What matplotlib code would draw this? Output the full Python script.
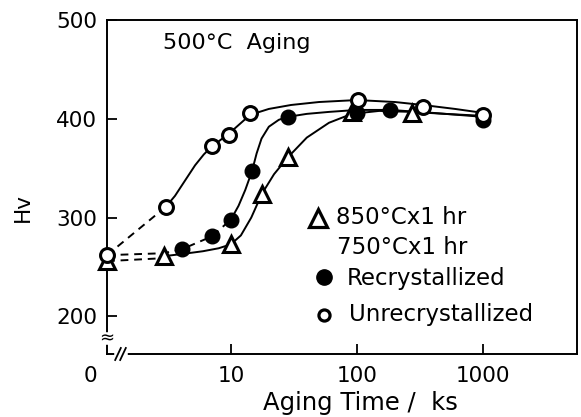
import numpy as np
import matplotlib
matplotlib.use("Agg")
import matplotlib.pyplot as plt
import matplotlib.transforms as mtransforms

# ---- data (time in ks, hardness Hv) ----
X_ZERO = 1.04  # where the "0" time point sits (left edge of log axis)

unrecr_t = [0, 3.05, 7.06, 9.64, 14.2, 102, 333, 1000]
unrecr_hv = [262, 311, 372, 384, 406, 419, 412, 404]

recr_t = [4.08, 7.06, 10, 14.7, 28.3, 100, 183, 1000]
recr_hv = [268, 281, 298, 347, 402, 406, 409, 399]

tri_t = [0, 2.94, 10, 17.6, 28.3, 91, 273]
tri_hv = [256, 261, 273, 324, 361, 407, 406]

# guide curves
unrecr_dash_t = [0, 3.05]
unrecr_dash_hv = [262, 311]
unrecr_line_t = [3.05, 3.6, 4.3, 5.2, 6.1, 7.06, 9.64, 14.2, 20, 30, 50, 100, 200, 333, 600, 1000]
unrecr_line_hv = [311, 322, 337, 353, 364, 372, 385, 404, 410, 414, 417, 419, 417, 414, 410, 406]

recr_dash_t = [0, 2.94, 4.08, 7.06, 10]
recr_dash_hv = [262, 264, 268, 281, 298]
recr_line_t = [10, 11.5, 13, 14.7, 16, 17.5, 20, 24, 28.3, 40, 60, 100, 183, 400, 1000]
recr_line_hv = [298, 312, 328, 347, 365, 380, 392, 399, 402, 405, 407, 409, 409, 406, 402]

tri_dash_t = [0, 2.94]
tri_dash_hv = [256, 259]
tri_line_t = [2.94, 4, 6, 8, 10, 12, 14.5, 17.6, 22, 28.3, 40, 60, 91, 150, 273, 500, 1000]
tri_line_hv = [261, 263, 266, 269, 273, 282, 300, 324, 344, 361, 381, 396, 405, 408, 407, 405, 403]


def tx(vals):
    return [X_ZERO if v == 0 else v for v in vals]


fig = plt.figure(figsize=(5.81, 4.17), dpi=100)
ax = fig.add_axes([107 / 581, 1 - 354 / 417, 470 / 581, 334 / 417])
ax.set_xscale("log")
ax.set_xlim(X_ZERO, 5570)
ax.set_ylim(162, 500)

lw = 1.4
ax.plot(tx(unrecr_dash_t), unrecr_dash_hv, "k--", lw=lw, dashes=(4, 3), clip_on=False)
ax.plot(tx(unrecr_line_t), unrecr_line_hv, "k-", lw=lw)
ax.plot(tx(recr_dash_t), recr_dash_hv, "k--", lw=lw, dashes=(4, 3), clip_on=False)
ax.plot(tx(recr_line_t), recr_line_hv, "k-", lw=lw)
ax.plot(tx(tri_dash_t), tri_dash_hv, "k--", lw=lw, dashes=(4, 3), clip_on=False)
ax.plot(tx(tri_line_t), tri_line_hv, "k-", lw=lw)

ax.plot(tx(tri_t), tri_hv, "^", ms=11.5, mfc="white", mec="black", mew=2.2,
        ls="none", clip_on=False, zorder=4)
ax.plot(tx(recr_t), recr_hv, "o", ms=10.5, mfc="black", mec="black",
        ls="none", clip_on=False, zorder=5)
ax.plot(tx(unrecr_t), unrecr_hv, "o", ms=10, mfc="white", mec="black", mew=2.2,
        ls="none", clip_on=False, zorder=6)

# ticks
ax.set_yticks([200, 300, 400, 500])
ax.set_xticks([X_ZERO, 10, 100, 1000])
ax.set_xticklabels(["0", "10", "100", "1000"])
ax.minorticks_off()
ax.tick_params(axis="both", direction="in", length=7, width=1.3, labelsize=15.5)
ax.tick_params(axis="y", pad=7)
ax.tick_params(axis="x", pad=9)
ax.xaxis.get_major_ticks()[0].tick1line.set_visible(False)
off = mtransforms.ScaledTranslation(-17 / 100, 0, fig.dpi_scale_trans)
lab0 = ax.get_xticklabels()[0]
lab0.set_transform(lab0.get_transform() + off)
for s in ax.spines.values():
    s.set_linewidth(1.4)

# axis breaks
ax.plot([0, 0], [(354 - 335) / 334, (354 - 342) / 334], color="white", lw=4,
        transform=ax.transAxes, clip_on=False, zorder=10)
ax.text(0, (354 - 338) / 334, "≈", transform=ax.transAxes, ha="center", va="center",
        fontsize=13, zorder=11)
ax.plot([(117 - 107) / 470, (125 - 107) / 470], [0, 0], color="white", lw=4,
        transform=ax.transAxes, clip_on=False, zorder=10)
for xp in (118, 123):
    xa = (xp - 107) / 470
    ax.plot([xa - 0.006, xa + 0.006], [-0.018, 0.018], color="black", lw=1.3,
            transform=ax.transAxes, clip_on=False, zorder=11)

# labels
fig.text(23 / 581, 1 - 207 / 417, "Hv", rotation=90, ha="center", va="center", fontsize=15.5)
fig.text(360 / 581, 1 - 403 / 417, "Aging Time /  ks", ha="center", va="center", fontsize=17.5)
fig.text(163 / 581, 1 - 43 / 417, "500°C  Aging", ha="left", va="center", fontsize=16)

# legend (drawn as text + markers)
def fpos(px, py):
    return px / 581, 1 - py / 417

fs_leg = 16.5
fig.text(*fpos(336, 217), "850°Cx1 hr", ha="left", va="center", fontsize=fs_leg)
fig.text(*fpos(337, 247), "750°Cx1 hr", ha="left", va="center", fontsize=fs_leg)
fig.text(*fpos(347, 278), "Recrystallized", ha="left", va="center", fontsize=fs_leg)
fig.text(*fpos(349, 314), "Unrecrystallized", ha="left", va="center", fontsize=fs_leg)
for (px, py), kw in [((318, 218), dict(marker="^", ms=12.5, mfc="white", mec="black", mew=2.3)),
                     ((324, 277), dict(marker="o", ms=11, mfc="black", mec="black")),
                     ((324, 315), dict(marker="o", ms=8, mfc="white", mec="black", mew=2.3))]:
    fx, fy = fpos(px, py)
    fig.lines.append(matplotlib.lines.Line2D([fx], [fy], transform=fig.transFigure, **kw))

fig.savefig("out.png", dpi=100)
